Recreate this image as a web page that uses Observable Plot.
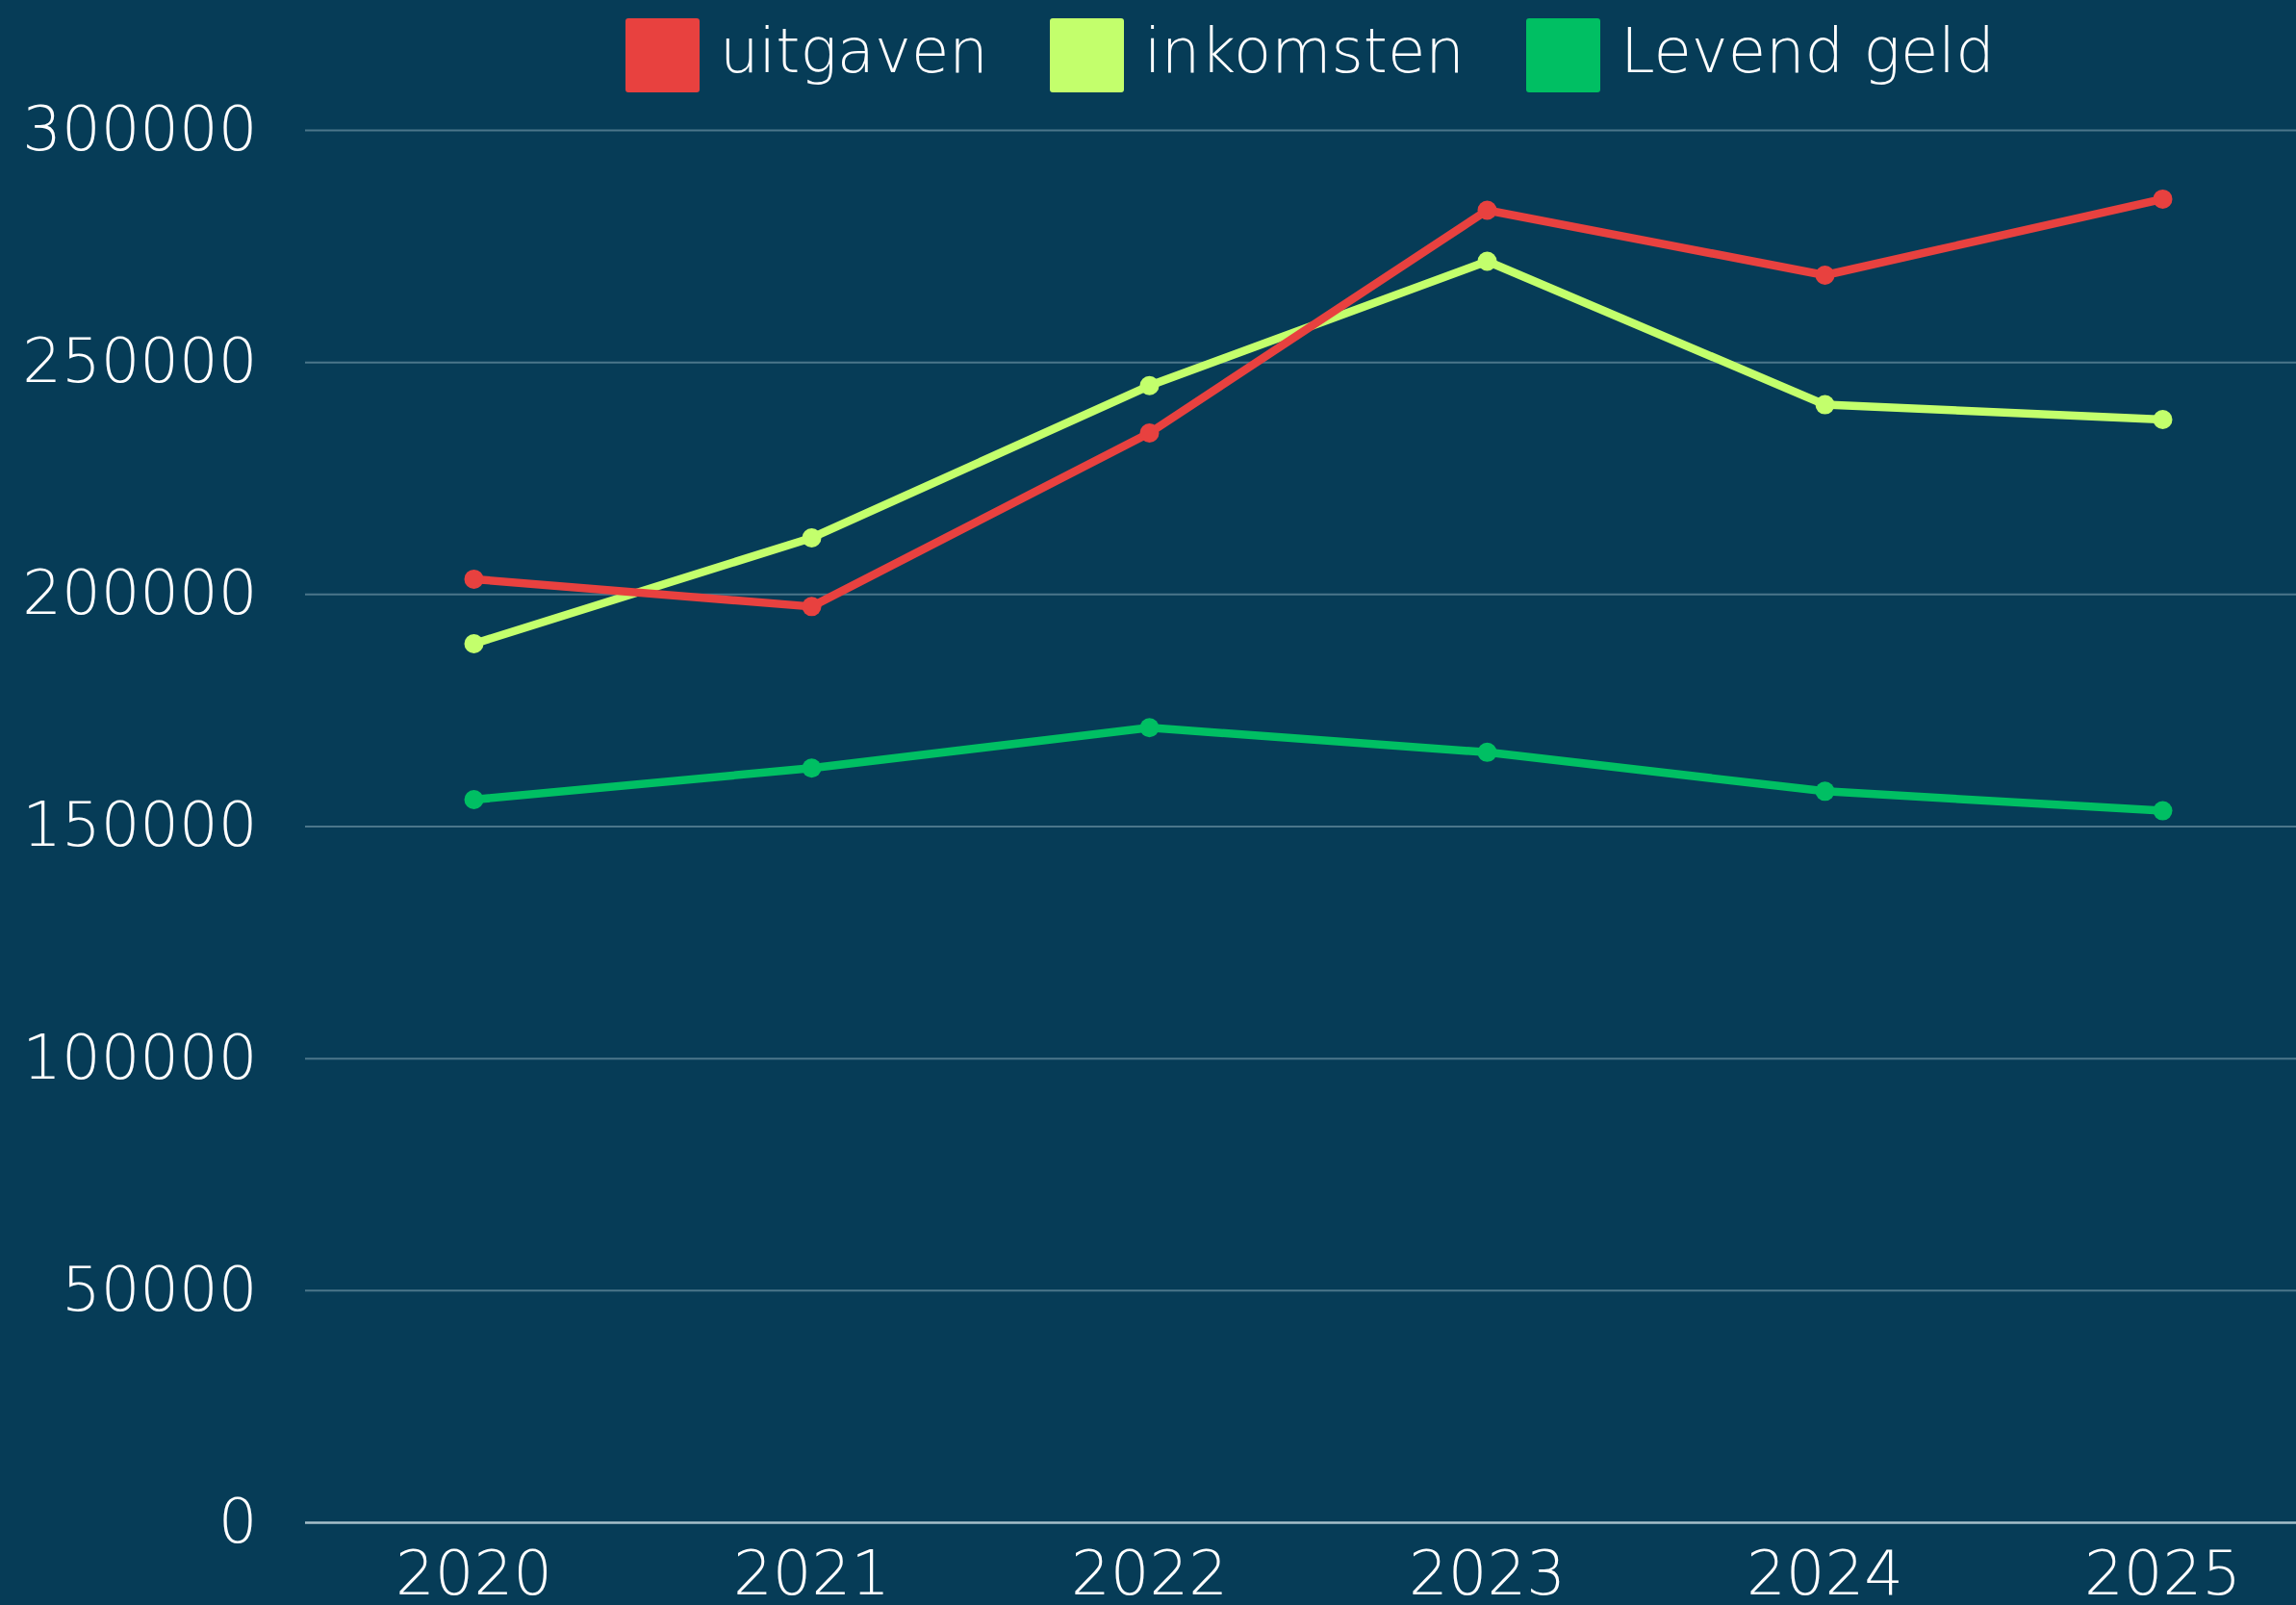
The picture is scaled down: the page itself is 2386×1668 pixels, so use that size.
<!DOCTYPE html>
<html>
<head>
<meta charset="utf-8">
<script src="https://cdn.jsdelivr.net/npm/d3@7"></script>
<script src="https://cdn.jsdelivr.net/npm/@observablehq/plot@0.6"></script>
<style>
  html, body { margin: 0; padding: 0; background: #063c57; }
  body { width: 2386px; height: 1668px; overflow: hidden; font-family: "DejaVu Sans", sans-serif; }
  #legend { position: relative; height: 70px; display: flex; align-items: flex-start; padding-left: 650px; box-sizing: border-box; color: #fff; font-weight: 200; font-size: 64px; overflow: visible; }
  .item { display: flex; align-items: flex-start; margin-top: 19px; margin-right: 64px; position: relative; z-index: 2; }
  .swatch { width: 77px; height: 77px; border-radius: 3px; margin-right: 21px; }
  .label { line-height: 77px; position: relative; top: -4px; white-space: nowrap; }
  #chart svg { overflow: visible; }
  #chart svg text { font-weight: 200; }
</style>
</head>
<body>
<div id="legend"></div>
<div id="chart"></div>
<script>
const years = ["2020", "2021", "2022", "2023", "2024", "2025"];
const seriesNames = ["uitgaven", "inkomsten", "Levend geld"];
const seriesColors = ["#e8413f", "#c3ff6c", "#00bf63"];
const uitgaven = [203300, 197400, 234800, 282800, 268800, 285200];
const inkomsten = [189400, 212200, 245000, 271800, 240900, 237700];
const levendGeld = [155800, 162600, 171300, 166000, 157600, 153400];
const yTicks = [0, 50000, 100000, 150000, 200000, 250000, 300000];

// legend
const legend = document.getElementById("legend");
seriesNames.forEach((name, i) => {
  const item = document.createElement("div");
  item.className = "item";
  const sw = document.createElement("div");
  sw.className = "swatch";
  sw.style.background = seriesColors[i];
  const lab = document.createElement("span");
  lab.className = "label";
  lab.textContent = name;
  item.appendChild(sw);
  item.appendChild(lab);
  legend.appendChild(item);
});

// long table, drawing order: green, lime, red (red on top)
const valuesBySeries = {"uitgaven": uitgaven, "inkomsten": inkomsten, "Levend geld": levendGeld};
const drawOrder = ["Levend geld", "inkomsten", "uitgaven"];
const rows = [];
drawOrder.forEach(s => years.forEach((y, i) => rows.push({series: s, year: y, value: valuesBySeries[s][i]})));

const chart = Plot.plot({
  width: 2386,
  height: 1598,
  marginTop: 65,
  marginLeft: 317,
  marginRight: 0,
  marginBottom: 86,
  style: {background: "transparent", color: "#ffffff", fontFamily: "'DejaVu Sans', sans-serif", fontSize: "64px", overflow: "visible"},
  x: {type: "point", domain: years, padding: 0, insetLeft: 174, insetRight: 139, label: null, tickSize: 0, tickPadding: 29},
  y: {domain: [0, 300000], ticks: yTicks, tickFormat: d3.format("d"), label: null, tickSize: 0, tickPadding: 50},
  color: {domain: seriesNames, range: seriesColors},
  marks: [
    Plot.ruleY(yTicks.filter(d => d > 0), {stroke: "#4b768a", strokeWidth: 2}),
    Plot.ruleY([0], {stroke: "#a7bfca", strokeWidth: 2.5}),
    Plot.line(rows, {x: "year", y: "value", stroke: "series", z: "series", strokeWidth: 8.5}),
    Plot.dot(rows, {x: "year", y: "value", fill: "series", r: 10})
  ]
});
document.getElementById("chart").appendChild(chart);
</script>
</body>
</html>
